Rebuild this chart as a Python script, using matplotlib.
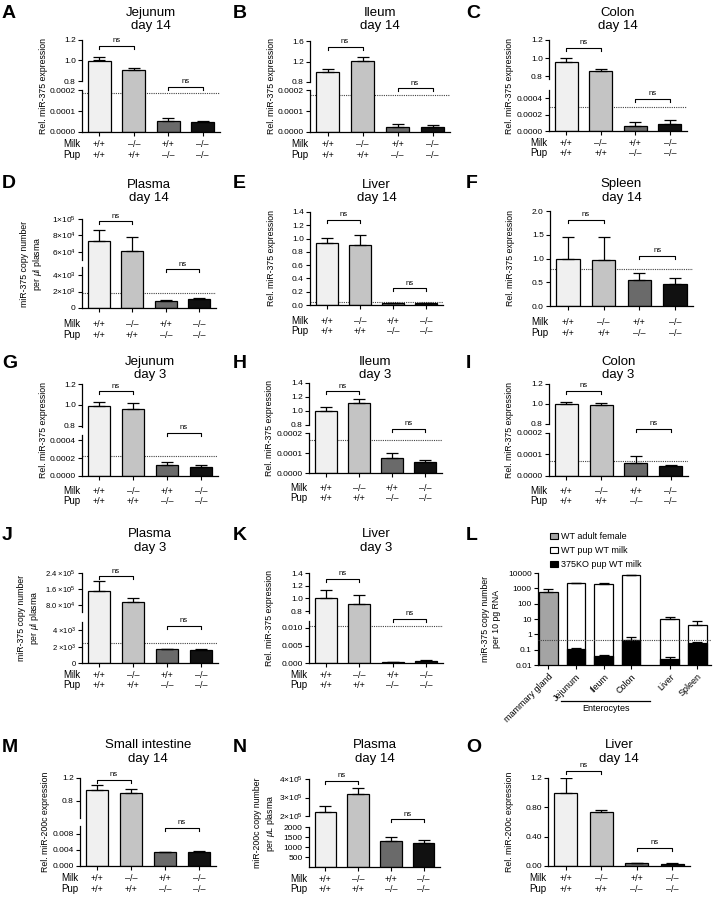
import numpy as np
import matplotlib
matplotlib.use("Agg")
import matplotlib.pyplot as plt
from matplotlib.patches import Rectangle

plt.rcParams["font.family"] = ["Liberation Sans", "DejaVu Sans"]
plt.rcParams["mathtext.fontset"] = "custom"
plt.rcParams["mathtext.rm"] = "Liberation Sans"
plt.rcParams["mathtext.it"] = "Liberation Sans:italic"
plt.rcParams["axes.linewidth"] = 0.9

W, H = 713, 900

# ---------------- data ----------------
MILK = ["+/+", "–/–", "+/+", "–/–"]
PUP = ["+/+", "+/+", "–/–", "–/–"]
BAR_COLORS = ["#f0f0f0", "#c4c4c4", "#6a6a6a", "#111111"]

REL375 = "Rel. miR-375 expression"
REL200 = "Rel. miR-200c expression"

# shared tick sets
T_HI_08_12 = [0.8, 1.0, 1.2]
L_HI_08_12 = ["0.8", "1.0", "1.2"]
T_LO_2E4 = [0, 0.0001, 0.0002]
L_LO_2E4 = ["0.0000", "0.0001", "0.0002"]
T_LO_4E4 = [0, 0.0002, 0.0004]
L_LO_4E4 = ["0.0000", "0.0002", "0.0004"]

# A  jejunum day 14
jej14_mean = [1.0, 0.905, 5.4e-5, 4.6e-5]
jej14_err = [0.035, 0.02, 1.1e-5, 0.8e-5]
jej14_cut = 1.85e-4
# B  ileum day 14
ile14_mean = [0.995, 1.21, 2.5e-5, 2.4e-5]
ile14_err = [0.05, 0.08, 1.2e-5, 0.8e-5]
ile14_cut = 1.76e-4
ile14_hi_ticks = [0.8, 1.2, 1.6]
ile14_hi_labels = ["0.8", "1.2", "1.6"]
# C  colon day 14
col14_mean = [0.952, 0.856, 6.1e-5, 8.9e-5]
col14_err = [0.055, 0.022, 5e-5, 4e-5]
col14_cut = 2.9e-4
# D  plasma day 14
pla14_mean = [7.3e4, 6.1e4, 910, 1110]
pla14_err = [1.4e4, 1.7e4, 100, 110]
pla14_cut = 1800
pla14_hi_ticks = [6e4, 8e4, 1e5]
pla14_hi_labels = ["6×10$^{4}$", "8×10$^{4}$", "1×10$^{5}$"]
pla14_lo_ticks = [0, 2000, 4000]
pla14_lo_labels = ["0", "2×10$^{3}$", "4×10$^{3}$"]
# E  liver day 14
liv14_mean = [0.93, 0.9, 0.028, 0.025]
liv14_err = [0.08, 0.15, 0.003, 0.003]
liv14_cut = 0.04
liv14_ticks = [0, 0.2, 0.4, 0.6, 0.8, 1.0, 1.2, 1.4]
liv14_labels = ["0.0", "0.2", "0.4", "0.6", "0.8", "1.0", "1.2", "1.4"]
# F  spleen day 14
spl14_mean = [1.0, 0.965, 0.552, 0.455]
spl14_err = [0.455, 0.49, 0.147, 0.14]
spl14_cut = 0.77
spl14_ticks = [0, 0.5, 1.0, 1.5, 2.0]
spl14_labels = ["0.0", "0.5", "1.0", "1.5", "2.0"]
# G  jejunum day 3
jej3_mean = [0.995, 0.96, 1.24e-4, 1.02e-4]
jej3_err = [0.03, 0.055, 3.4e-5, 2e-5]
jej3_cut = 2.26e-4
# H  ileum day 3
ile3_mean = [1.0, 1.12, 7.6e-5, 5.4e-5]
ile3_err = [0.06, 0.05, 2.2e-5, 1.2e-5]
ile3_cut = 1.66e-4
ile3_hi_ticks = [0.8, 1.0, 1.2, 1.4]
ile3_hi_labels = ["0.8", "1.0", "1.2", "1.4"]
# I  colon day 3
col3_mean = [1.0, 0.99, 6.2e-5, 4.5e-5]
col3_err = [0.02, 0.02, 3e-5, 4e-6]
col3_cut = 7e-5
# J  plasma day 3
pla3_mean = [1.52e5, 9.2e4, 1680, 1560]
pla3_err = [5e4, 2e4, 80, 160]
pla3_cut = 2380
pla3_hi_ticks = [8e4, 1.6e5, 2.4e5]
pla3_hi_labels = ["8.0 ×10$^{4}$", "1.6 ×10$^{5}$", "2.4 ×10$^{5}$"]
pla3_lo_ticks = [0, 2000, 4000]
pla3_lo_labels = ["0", "2 ×10$^{3}$", "4 ×10$^{3}$"]
# K  liver day 3
liv3_mean = [1.0, 0.91, 0.0002, 0.00068]
liv3_err = [0.127, 0.14, 0.0001, 0.0003]
liv3_cut = 0.0105
liv3_hi_ticks = [0.8, 1.0, 1.2, 1.4]
liv3_hi_labels = ["0.8", "1.0", "1.2", "1.4"]
liv3_lo_ticks = [0, 0.005, 0.010]
liv3_lo_labels = ["0.000", "0.005", "0.010"]
# L  copy numbers per tissue
tissues = ["mammary gland", "Jejunum", "Ileum", "Colon", "Liver", "Spleen"]
adult_mean = [580, np.nan, np.nan, np.nan, np.nan, np.nan]
adult_err = [270, 0, 0, 0, 0, 0]
wt_pup_mean = [np.nan, 2100, 2000, 7500, 10.5, 3.9]
wt_pup_err = [0, 150, 100, 300, 2.4, 4.0]
ko_pup_mean = [np.nan, 0.11, 0.037, 0.42, 0.022, 0.28]
ko_pup_err = [0, 0.015, 0.01, 0.26, 0.012, 0.05]
copy_cut = 0.43
copy_ticks = [0.01, 0.1, 1, 10, 100, 1000, 10000]
copy_labels = ["0.01", "0.1", "1", "10", "100", "1000", "10000"]
legend_labels = ["WT adult female", "WT pup WT milk", "375KO pup WT milk"]
# M  small intestine miR-200c
si200_mean = [0.99, 0.93, 0.0034, 0.0035]
si200_err = [0.085, 0.08, 0.0002, 0.0002]
si200_hi_ticks = [0.8, 1.2]
si200_hi_labels = ["0.8", "1.2"]
si200_lo_ticks = [0, 0.004, 0.008]
si200_lo_labels = ["0.000", "0.004", "0.008"]
# N  plasma miR-200c
pla200_mean = [2.23e5, 3.19e5, 1320, 1220]
pla200_err = [3.2e4, 3.5e4, 165, 130]
pla200_hi_ticks = [2e5, 3e5, 4e5]
pla200_hi_labels = ["2×10$^{5}$", "3×10$^{5}$", "4×10$^{5}$"]
pla200_lo_ticks = [500, 1000, 1500, 2000]
pla200_lo_labels = ["500", "1000", "1500", "2000"]
# O  liver miR-200c
liv200_mean = [1.0, 0.74, 0.038, 0.034]
liv200_err = [0.2, 0.02, 0.004, 0.004]
liv200_ticks = [0, 0.4, 0.8, 1.2]
liv200_labels = ["0.00", "0.40", "0.80", "1.2"]

# ---------------- layout ----------------
fig = plt.figure(figsize=(W / 100, H / 100), dpi=100)

ROW_TITLE = {1: (16, 29.5), 2: (187.5, 201), 3: (365, 378), 4: (537, 551), 5: (748, 762)}
ROW_LETTER = {1: 18, 2: 188, 3: 368, 4: 540, 5: 752}
ROW_MILK = {1: 15, 2: 19, 3: 18, 4: 15, 5: 15}
COL_LETTER = {1: 2, 2: 233, 3: 466}


def px_axes(l, r, t, b):
    return fig.add_axes([l / W, 1 - b / H, (r - l) / W, (b - t) / H])


def ftext(x, y, s, **kw):
    return fig.text(x / W, 1 - y / H, s, **kw)


def style_y(ax, ticks, labels, size=6):
    ax.set_yticks(ticks)
    ax.set_yticklabels(labels)
    ax.tick_params(axis="y", length=3, width=0.8, labelsize=size, pad=1.5)
    ax.spines["top"].set_visible(False)
    ax.spines["right"].set_visible(False)
    ax.set_facecolor("none")


def draw_bars(ax, mean, err, floor=None):
    x = np.arange(len(mean))
    mean = np.asarray(mean, float)
    err = np.asarray(err, float)
    colors = np.array(BAR_COLORS)
    bottom = 0.0
    if floor is not None:
        # upper segment of a broken axis: only the bars that reach it
        keep = mean > floor
        x, mean, err, colors = x[keep], mean[keep], err[keep], colors[keep]
        y0, y1 = ax.get_ylim()
        bottom = y0 - (y1 - y0)
    ax.bar(x, mean - bottom, bottom=bottom, width=0.66, color=list(colors), edgecolor="black",
           linewidth=0.9, zorder=2)
    ax.errorbar(x, mean, yerr=[np.zeros(len(err)), err], fmt="none", ecolor="black",
                elinewidth=0.9, capsize=4.3, capthick=0.9, zorder=3)
    ax.set_xlim(-0.5, 3.5)


def bracket(ax, i, j, y):
    y0, y1 = ax.get_ylim()
    d = 3 * (y1 - y0) / (ax.get_position().height * H)
    ax.plot([i, i, j, j], [y - d, y, y, y - d], color="black", lw=0.8, clip_on=False, zorder=4)
    ax.text((i + j) / 2, y + d * 0.6, "ns", ha="center", va="bottom", fontsize=5.5, clip_on=False)


def panel(p):
    left, right = p["x"]
    top, base = p["top"], p["base"]
    tsize = p.get("tick_size", 6)
    hi_ax = None
    if "hi" in p:
        lo, hi, y_ub = p["hi"]
        y_lt = p["y_lt"]
        hi_ax = px_axes(left, right, top, y_lt)
        per_px = (hi - lo) / (y_ub - top)
        hi_ax.set_ylim(lo - (y_lt - y_ub) * per_px, hi)
        draw_bars(hi_ax, p["mean"], p["err"], floor=lo)
        style_y(hi_ax, p["hi_ticks"], p["hi_labels"], tsize)
        hi_ax.spines["left"].set_bounds(lo, hi)
        hi_ax.spines["bottom"].set_visible(False)
        hi_ax.set_xticks([])
    else:
        y_lt = top
    ax = px_axes(left, right, y_lt, base)
    ax.set_ylim(0, p["lo_top"])
    draw_bars(ax, p["mean"], p["err"])
    style_y(ax, p["lo_ticks"], p["lo_labels"], tsize)
    ax.set_xticks(range(4))
    ax.set_xticklabels([])
    ax.tick_params(axis="x", length=3, width=0.8)
    if p.get("cut") is not None:
        target = ax if p["cut"] <= p["lo_top"] else hi_ax
        target.axhline(p["cut"], color="#444444", lw=0.8, ls=(0, (1, 1)), zorder=1)
    for i, j, y, seg in p["ns"]:
        bracket(hi_ax if seg == "hi" else ax, i, j, y)

    row, col = p["row"], p["col"]
    cx = (left + right) / 2
    t1, t2 = p["title"].split("\n")
    ftext(cx, ROW_TITLE[row][0], t1, ha="center", va="baseline", fontsize=9.5)
    ftext(cx, ROW_TITLE[row][1], t2, ha="center", va="baseline", fontsize=9.5)
    ftext(COL_LETTER[col], ROW_LETTER[row], p["letter"], ha="left", va="baseline",
          fontsize=14, fontweight="bold")
    ftext(left - p.get("yl_dx", 39), (top + base) / 2, p["ylabel"], rotation=90,
          ha="center", va="center", fontsize=6.3, linespacing=1.15)
    dm = ROW_MILK[row]
    ftext(left - 19, base + dm, "Milk", ha="left", va="baseline", fontsize=7)
    ftext(left - 19, base + dm + 10.5, "Pup", ha="left", va="baseline", fontsize=7)
    for k in range(4):
        xk = left + (k + 0.5) * (right - left) / 4
        ftext(xk, base + dm, MILK[k], ha="center", va="baseline", fontsize=6.5)
        ftext(xk, base + dm + 10.5, PUP[k], ha="center", va="baseline", fontsize=6.5)


PLASMA_UL = "miR-375 copy number\nper $\\mu$l plasma"

panels = [
    dict(letter="A", row=1, col=1, title="Jejunum\nday 14", ylabel=REL375,
         mean=jej14_mean, err=jej14_err, cut=jej14_cut,
         hi_ticks=T_HI_08_12, hi_labels=L_HI_08_12, lo_ticks=T_LO_2E4, lo_labels=L_LO_2E4,
         x=(82, 220), top=40, base=132, hi=(0.8, 1.2, 81), y_lt=90, lo_top=0.0002,
         ns=[(0, 1, 1.14, "hi"), (2, 3, 0.000214, "lo")]),
    dict(letter="B", row=1, col=2, title="Ileum\nday 14", ylabel=REL375,
         mean=ile14_mean, err=ile14_err, cut=ile14_cut,
         hi_ticks=ile14_hi_ticks, hi_labels=ile14_hi_labels, lo_ticks=T_LO_2E4, lo_labels=L_LO_2E4,
         x=(310, 450), top=41, base=132, hi=(0.8, 1.6, 82), y_lt=90, lo_top=0.0002,
         ns=[(0, 1, 1.49, "hi"), (2, 3, 0.000208, "lo")]),
    dict(letter="C", row=1, col=3, title="Colon\nday 14", ylabel=REL375,
         mean=col14_mean, err=col14_err, cut=col14_cut,
         hi_ticks=T_HI_08_12, hi_labels=L_HI_08_12, lo_ticks=T_LO_4E4, lo_labels=L_LO_4E4,
         x=(549, 687), top=40, base=131, hi=(0.77, 1.2, 79), y_lt=90, lo_top=0.0005,
         ns=[(0, 1, 1.115, "hi"), (2, 3, 0.00039, "lo")]),
    dict(letter="D", row=2, col=1, title="Plasma\nday 14", ylabel=PLASMA_UL, yl_dx=50,
         mean=pla14_mean, err=pla14_err, cut=pla14_cut,
         hi_ticks=pla14_hi_ticks, hi_labels=pla14_hi_labels, lo_ticks=pla14_lo_ticks,
         lo_labels=pla14_lo_labels,
         x=(82, 216), top=219, base=308, hi=(5e4, 1e5, 260), y_lt=267, lo_top=5000,
         ns=[(0, 1, 9.7e4, "hi"), (2, 3, 4700, "lo")]),
    dict(letter="E", row=2, col=2, title="Liver\nday 14", ylabel=REL375,
         mean=liv14_mean, err=liv14_err, cut=liv14_cut,
         lo_ticks=liv14_ticks, lo_labels=liv14_labels,
         x=(310, 443), top=212, base=305, lo_top=1.4,
         ns=[(0, 1, 1.28, "lo"), (2, 3, 0.25, "lo")]),
    dict(letter="F", row=2, col=3, title="Spleen\nday 14", ylabel=REL375,
         mean=spl14_mean, err=spl14_err, cut=spl14_cut,
         lo_ticks=spl14_ticks, lo_labels=spl14_labels,
         x=(550, 693), top=211, base=306, lo_top=2.0,
         ns=[(0, 1, 1.81, "lo"), (2, 3, 1.056, "lo")]),
    dict(letter="G", row=3, col=1, title="Jejunum\nday 3", ylabel=REL375,
         mean=jej3_mean, err=jej3_err, cut=jej3_cut,
         hi_ticks=T_HI_08_12, hi_labels=L_HI_08_12, lo_ticks=T_LO_4E4, lo_labels=L_LO_4E4,
         x=(82, 218), top=384, base=476, hi=(0.79, 1.2, 427), y_lt=435, lo_top=0.00046,
         ns=[(0, 1, 1.13, "hi"), (2, 3, 0.000484, "lo")]),
    dict(letter="H", row=3, col=2, title="Ileum\nday 3", ylabel=REL375,
         mean=ile3_mean, err=ile3_err, cut=ile3_cut,
         hi_ticks=ile3_hi_ticks, hi_labels=ile3_hi_labels, lo_ticks=T_LO_2E4, lo_labels=L_LO_2E4,
         x=(309, 442), top=383, base=473, hi=(0.8, 1.4, 425), y_lt=433, lo_top=0.0002,
         ns=[(0, 1, 1.28, "hi"), (2, 3, 0.000222, "lo")]),
    dict(letter="I", row=3, col=3, title="Colon\nday 3", ylabel=REL375,
         mean=col3_mean, err=col3_err, cut=col3_cut,
         hi_ticks=T_HI_08_12, hi_labels=L_HI_08_12, lo_ticks=T_LO_2E4, lo_labels=L_LO_2E4,
         x=(549, 688), top=384, base=476, hi=(0.8, 1.2, 424), y_lt=433, lo_top=0.0002,
         ns=[(0, 1, 1.13, "hi"), (2, 3, 0.00022, "lo")]),
    dict(letter="J", row=4, col=1, title="Plasma\nday 3", ylabel=PLASMA_UL, yl_dx=53, tick_size=5.5,
         mean=pla3_mean, err=pla3_err, cut=pla3_cut,
         hi_ticks=pla3_hi_ticks, hi_labels=pla3_hi_labels, lo_ticks=pla3_lo_ticks,
         lo_labels=pla3_lo_labels,
         x=(82, 218), top=573, base=663, hi=(4.4e4, 2.4e5, 612), y_lt=622, lo_top=5000,
         ns=[(0, 1, 2.23e5, "hi"), (2, 3, 4500, "lo")]),
    dict(letter="K", row=4, col=2, title="Liver\nday 3", ylabel=REL375,
         mean=liv3_mean, err=liv3_err, cut=liv3_cut,
         hi_ticks=liv3_hi_ticks, hi_labels=liv3_hi_labels, lo_ticks=liv3_lo_ticks,
         lo_labels=liv3_lo_labels,
         x=(309, 443), top=573, base=663, hi=(0.77, 1.4, 613), y_lt=621, lo_top=0.012,
         ns=[(0, 1, 1.305, "hi"), (2, 3, 0.0127, "lo")]),
    dict(letter="M", row=5, col=1, title="Small intestine\nday 14", ylabel=REL200, yl_dx=34,
         mean=si200_mean, err=si200_err,
         hi_ticks=si200_hi_ticks, hi_labels=si200_hi_labels, lo_ticks=si200_lo_ticks,
         lo_labels=si200_lo_labels,
         x=(80, 216), top=778, base=866, hi=(0.5, 1.2, 818), y_lt=826, lo_top=0.01,
         ns=[(0, 1, 1.17, "hi"), (2, 3, 0.0095, "lo")]),
    dict(letter="N", row=5, col=2, title="Plasma\nday 14", ylabel="miR-200c copy number\nper $\\mu$L plasma",
         yl_dx=44, mean=pla200_mean, err=pla200_err,
         hi_ticks=pla200_hi_ticks, hi_labels=pla200_hi_labels, lo_ticks=pla200_lo_ticks,
         lo_labels=pla200_lo_labels,
         x=(309, 440), top=779, base=867, hi=(2e5, 4e5, 816), y_lt=827, lo_top=2000,
         ns=[(0, 1, 3.9e5, "hi"), (2, 3, 2385, "lo")]),
    dict(letter="O", row=5, col=3, title="Liver\nday 14", ylabel=REL200,
         mean=liv200_mean, err=liv200_err,
         lo_ticks=liv200_ticks, lo_labels=liv200_labels,
         x=(548, 690), top=778, base=866, lo_top=1.2,
         ns=[(0, 1, 1.3, "lo"), (2, 3, 0.25, "lo")]),
]

for p in panels:
    panel(p)

# ---------------- panel L (log scale copy numbers) ----------------
Lx = np.array([0, 1, 2, 3, 4.4, 5.4])
axL = px_axes(538, 711, 573, 665)
axL.set_yscale("log")
axL.set_ylim(0.01, 10000)
axL.set_xlim(-0.38, 5.9)
bw = 0.68
axL.bar(Lx, adult_mean, width=bw, bottom=0.001, color="#a4a4a4", edgecolor="black", lw=0.9, zorder=2)
axL.bar(Lx, wt_pup_mean, width=bw, bottom=0.001, color="white", edgecolor="black", lw=0.9, zorder=2)
axL.bar(Lx, ko_pup_mean, width=bw, bottom=0.001, color="black", edgecolor="black", lw=0.9, zorder=3)
for m, e in ((adult_mean, adult_err), (wt_pup_mean, wt_pup_err), (ko_pup_mean, ko_pup_err)):
    axL.errorbar(Lx, m, yerr=[np.zeros(len(e)), e], fmt="none", ecolor="black",
                 elinewidth=0.9, capsize=3.5, capthick=0.9, zorder=4)
axL.axhline(copy_cut, color="#444444", lw=0.8, ls=(0, (1, 1)), zorder=5)
axL.set_yticks(copy_ticks)
axL.set_yticklabels(copy_labels)
axL.minorticks_off()
axL.tick_params(axis="y", length=3, width=0.8, labelsize=6, pad=1.5)
axL.set_xticks(Lx)
axL.set_xticklabels(tissues, rotation=45, ha="right", va="top", rotation_mode="anchor", fontsize=6.5)
axL.tick_params(axis="x", length=3, width=0.8, pad=2)
axL.spines["top"].set_visible(False)
axL.spines["right"].set_visible(False)
ftext(491, 619, "miR-375 copy number\nper 10 pg RNA", rotation=90, ha="center", va="center",
      fontsize=6.3, linespacing=1.15)
ftext(COL_LETTER[3], ROW_LETTER[4], "L", ha="left", va="baseline", fontsize=14, fontweight="bold")
fig.add_artist(plt.Line2D([561 / W, 650 / W], [1 - 701 / H, 1 - 701 / H], color="black", lw=0.9))
ftext(606, 711, "Enterocytes", ha="center", va="baseline", fontsize=6.5)
for k, (lab, fc) in enumerate(zip(legend_labels, ["#a4a4a4", "white", "black"])):
    yb = 539 + k * 14
    fig.add_artist(Rectangle((550 / W, 1 - (yb - 0.5) / H), 8 / W, 5.5 / H, transform=fig.transFigure,
                             facecolor=fc, edgecolor="black", lw=0.8))
    ftext(561, yb, lab, ha="left", va="baseline", fontsize=6.5)

fig.savefig("out.png", dpi=100)
